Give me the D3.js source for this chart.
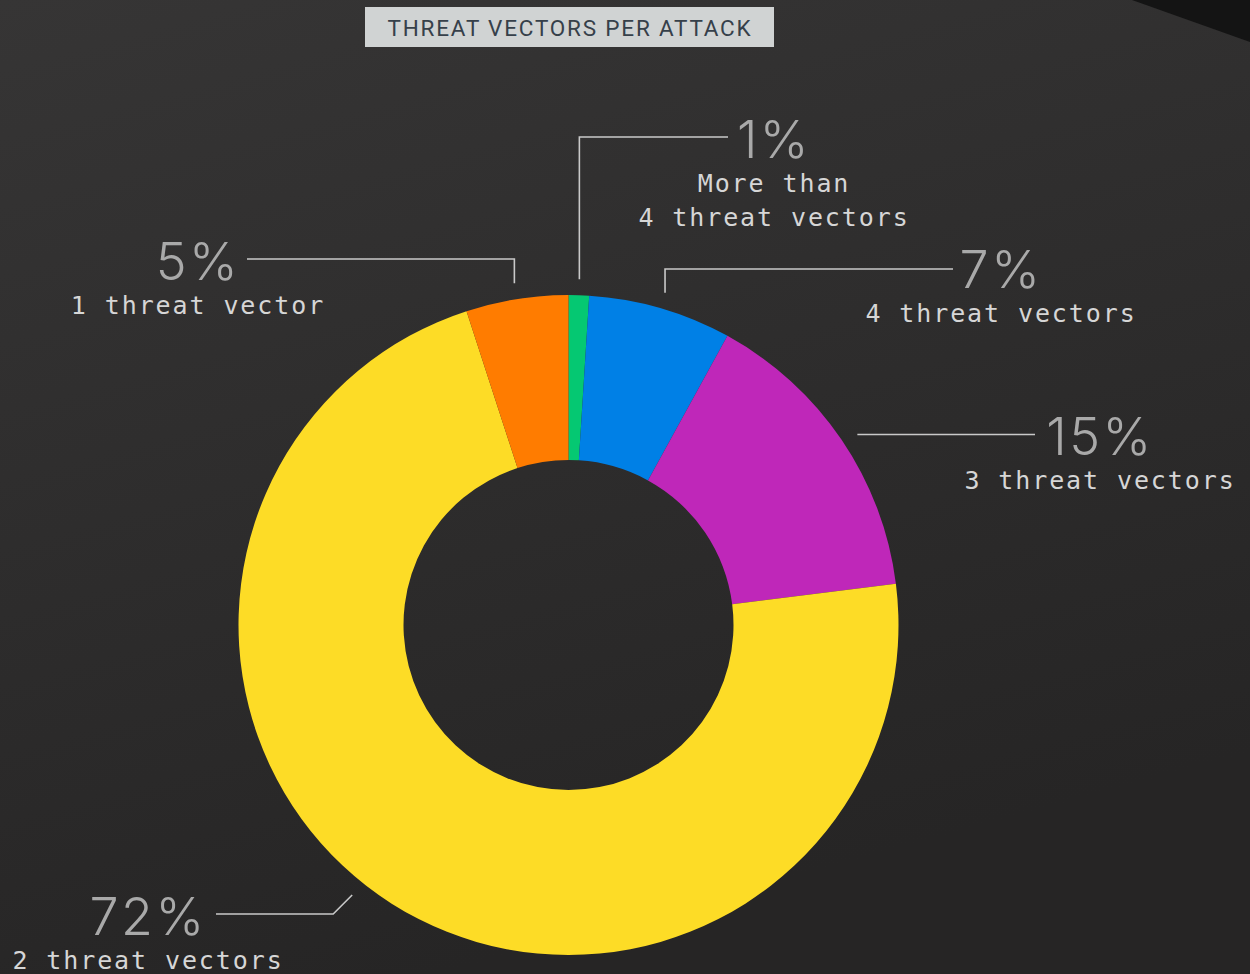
<!DOCTYPE html>
<html>
<head>
<meta charset="utf-8">
<script src="https://cdn.jsdelivr.net/npm/d3@7"></script>
<style>
  html, body { margin: 0; padding: 0; background: #2c2b2b; }
  svg { display: block; }
</style>
</head>
<body>
<svg id="chart" width="1250" height="974"></svg>
<script>
// Share of attacks by number of threat vectors, clockwise from 12 o'clock
const categories = ["More than\n4 threat vectors", "4 threat vectors", "3 threat vectors", "2 threat vectors", "1 threat vector"];
const values = [1, 7, 15, 72, 5];
const colors = ["#05c872", "#0080e6", "#bf27b9", "#fddc26", "#ff7c00"];
const title = "THREAT VECTORS PER ATTACK";

// Label placement for each slice: leader shape, angular nudge (degrees) of the
// leader's starting point, line height, line end and text centre/baseline
const labelLayout = [
  { kind: "vertical", shift: 0,   lineY: 137, lineEnd: 728,  tx: 774,  ty: 158 },
  { kind: "vertical", shift: 0,   lineY: 269, lineEnd: 953,  tx: 1001, ty: 288 },
  { kind: "straight", shift: 0.8, lineY: null, lineEnd: 1035, tx: 1100, ty: 455 },
  { kind: "diagonal", shift: 6.3, lineY: 914, lineEnd: 216,  tx: 148,  ty: 935 },
  { kind: "vertical", shift: 0,   lineY: 259, lineEnd: 247,  tx: 198,  ty: 280 }
];

const W = 1250, H = 974;
const cx = 568.5, cy = 625, rOuter = 330, rInner = 165, rLeader = 346;

const svg = d3.select("#chart");
const defs = svg.append("defs");

// background: soft dark gradient
const bg = defs.append("linearGradient").attr("id", "bg")
  .attr("x1", "0").attr("y1", "0").attr("x2", "0.35").attr("y2", "1");
bg.append("stop").attr("offset", "0").attr("stop-color", "#363535");
bg.append("stop").attr("offset", "1").attr("stop-color", "#262525");
svg.append("rect").attr("width", W).attr("height", H).attr("fill", "url(#bg)");

// dark wedge in the top-right corner
svg.append("path")
  .attr("d", "M1132,0 L1250,42 L1250,0 Z")
  .attr("fill", "#141414");

// title box
svg.append("rect")
  .attr("x", 365).attr("y", 7).attr("width", 409).attr("height", 40)
  .attr("fill", "#d0d3d3");
svg.append("text")
  .attr("x", 570).attr("y", 36)
  .attr("text-anchor", "middle")
  .attr("font-family", "Roboto, 'Open Sans', sans-serif")
  .attr("font-size", 22.5)
  .attr("letter-spacing", 1.8)
  .attr("fill", "#36404a")
  .text(title);

// donut
const pie = d3.pie().sort(null).value(d => d)(values);
const arc = d3.arc().innerRadius(rInner).outerRadius(rOuter);
const g = svg.append("g").attr("transform", `translate(${cx},${cy})`);
g.selectAll("path.slice")
  .data(pie)
  .join("path")
  .attr("class", "slice")
  .attr("d", arc)
  .attr("fill", (d, i) => colors[i]);

// leader lines and labels
pie.forEach((d, i) => {
  const L = labelLayout[i];
  const a = (d.startAngle + d.endAngle) / 2 + L.shift * Math.PI / 180;
  const sx = cx + rLeader * Math.sin(a), sy = cy - rLeader * Math.cos(a);
  const pts = [[sx, sy]];
  if (L.kind === "vertical") {
    pts.push([sx, L.lineY], [L.lineEnd, L.lineY]);
  } else if (L.kind === "diagonal") {
    const dy = Math.abs(L.lineY - sy);
    const dir = L.lineEnd < sx ? -1 : 1;
    pts.push([sx + dir * dy, L.lineY], [L.lineEnd, L.lineY]);
  } else {
    pts.push([L.lineEnd, sy]);
  }
  svg.append("path")
    .attr("d", d3.line()(pts))
    .attr("fill", "none")
    .attr("stroke", "#c9c9c9")
    .attr("stroke-width", 1.6);

  // value
  svg.append("text")
    .attr("x", L.tx).attr("y", L.ty)
    .attr("text-anchor", "middle")
    .attr("font-family", "Inter, 'Open Sans', sans-serif")
    .attr("font-weight", 300)
    .attr("font-size", 52)
    .attr("letter-spacing", 2.5)
    .attr("fill", "#a9a9a9")
    .text(values[i] + "%");

  // category
  categories[i].split("\n").forEach((line, k) => {
    svg.append("text")
      .attr("x", L.tx).attr("y", L.ty + 34 + k * 34)
      .attr("text-anchor", "middle")
      .attr("font-family", "'DejaVu Sans Mono', monospace")
      .attr("font-size", 25)
      .attr("letter-spacing", 1.9)
      .attr("fill", "#d6d6d6")
      .text(line);
  });
});
</script>
</body>
</html>
